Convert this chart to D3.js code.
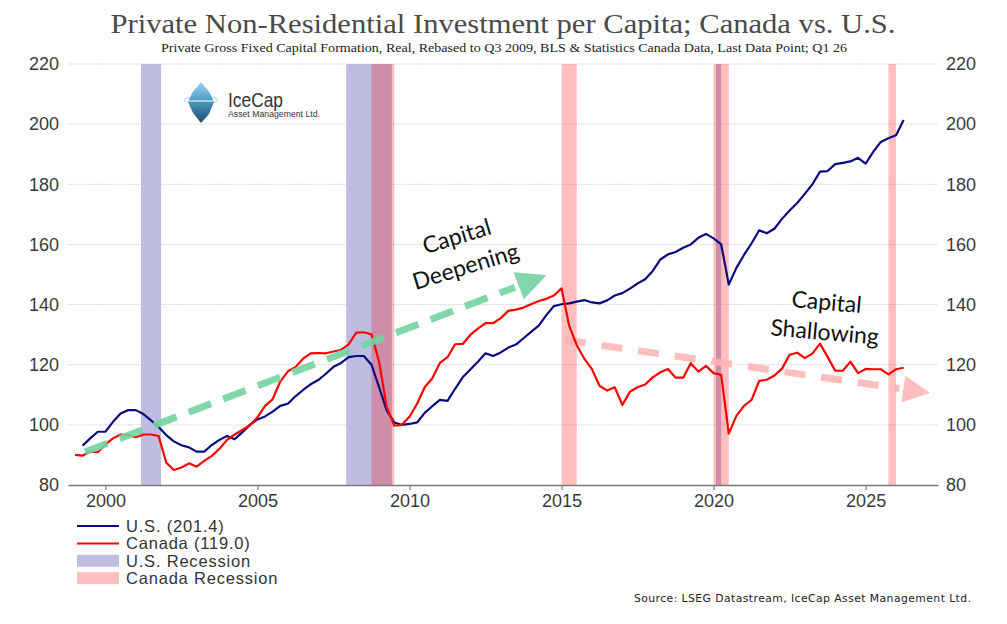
<!DOCTYPE html>
<html>
<head>
<meta charset="utf-8">
<script src="https://cdn.jsdelivr.net/npm/d3@7"></script>
<style>
  html, body { margin: 0; padding: 0; background: #ffffff; }
  svg { display: block; }
</style>
</head>
<body>
<svg id="chart" width="1007" height="624"></svg>
<script>
// ---------------- DATA ----------------
// Quarterly values; each point is plotted at its quarter-end date.
const caStartQuarter = "1998Q4";
const usStartQuarter = "1999Q1";

const usValues = [
  93.1, 95.5, 97.7, 97.7, 101.0, 103.8, 104.9, 104.9, 103.6, 101.5, 99.3, 96.6,
  94.5, 93.2, 92.5, 91.1, 91.1, 93.3, 95.0, 96.3, 95.2, 97.5, 100.0, 101.8,
  102.8, 104.4, 106.3, 107.0, 109.5, 111.6, 113.5, 114.9, 117.0, 119.3, 120.6, 122.5,
  122.9, 122.9, 120.0, 112.5, 104.8, 100.8, 100.0, 100.3, 100.8, 104.0, 106.2, 108.3,
  108.0, 112.0, 115.8, 118.4, 121.0, 123.8, 122.9, 124.1, 125.7, 126.7, 128.8, 130.9,
  133.0, 136.5, 139.5, 140.1, 140.4, 141.0, 141.5, 140.7, 140.4, 141.4, 143.0, 143.8,
  145.3, 147.0, 148.4, 151.2, 155.0, 156.7, 157.5, 158.9, 160.0, 162.2, 163.5, 162.0,
  160.0, 146.7, 152.2, 156.5, 160.4, 164.7, 163.7, 165.2, 168.5, 171.3, 173.8, 176.8,
  180.0, 184.2, 184.4, 186.7, 187.1, 187.6, 188.8, 186.9, 190.8, 194.1, 195.3, 196.3,
  201.4
];

const caValues = [
  90.0, 89.8, 91.1, 90.9, 93.5, 95.5, 96.8, 96.6, 95.9, 96.8, 96.8, 96.3,
  87.5, 85.0, 85.8, 87.2, 86.1, 88.0, 89.7, 92.0, 95.0, 96.8, 98.3, 99.8,
  102.5, 106.3, 108.5, 114.4, 117.8, 119.2, 122.0, 123.8, 123.9, 123.8, 124.4, 124.9,
  126.8, 130.7, 130.8, 130.1, 121.0, 106.0, 99.7, 100.0, 102.7, 107.0, 112.5, 115.5,
  120.6, 122.5, 126.8, 126.9, 129.9, 132.0, 133.8, 133.8, 135.5, 137.9, 138.3, 139.0,
  140.1, 141.2, 141.9, 143.0, 145.4, 133.0, 126.5, 122.0, 118.5, 113.0, 111.4, 112.5,
  106.6, 111.0, 112.5, 113.4, 115.8, 117.5, 118.6, 115.7, 115.7, 120.5, 117.7, 119.6,
  117.2, 116.6, 97.1, 103.0, 106.3, 108.3, 114.6, 115.0, 116.4, 118.7, 123.3, 124.0,
  122.2, 123.7, 127.0, 122.6, 118.0, 118.0, 121.0, 117.2, 118.6, 118.5, 118.5, 116.8,
  118.5, 119.0
];

// Recession periods (decimal years)
const usRecessions = [[2001.17, 2001.83], [2007.92, 2009.42], [2020.08, 2020.25]];
const caRecessions = [[2008.75, 2009.5], [2015.0, 2015.5], [2020.0, 2020.5], [2025.75, 2026.0]];

const xTicks = [2000, 2005, 2010, 2015, 2020, 2025];
const yTicks = [80, 100, 120, 140, 160, 180, 200, 220];
const yGrid = [100, 120, 140, 160, 180, 200, 220];

const legendItems = ["U.S. (201.4)", "Canada (119.0)", "U.S. Recession", "Canada Recession"];

// Annotation arrows in data units: [year, value]
const deepeningArrow = [[1999.33, 91.0], [2014.51, 149.8]];
const shallowingArrow = [[2015.11, 128.2], [2027.12, 110.6]];

const titleText = "Private Non-Residential Investment per Capita; Canada vs. U.S.";
const subtitleText = "Private Gross Fixed Capital Formation, Real, Rebased to Q3 2009, BLS & Statistics Canada Data, Last Data Point; Q1 26";
const sourceText = "Source: LSEG Datastream, IceCap Asset Management Ltd.";

// ---------------- HELPERS ----------------
function quarterEnd(q) {
  const yr = +q.slice(0, 4), qq = +q.slice(5);
  return yr + qq / 4;
}
function series(startQ, values) {
  const t0 = quarterEnd(startQ);
  return values.map((v, i) => ({ t: t0 + i / 4, v }));
}
const usData = series(usStartQuarter, usValues);
const caData = series(caStartQuarter, caValues);

// ---------------- CHART ----------------
const svg = d3.select("#chart");
const W = 1007, H = 624;
svg.append("rect").attr("width", W).attr("height", H).attr("fill", "#fff");

const plotLeft = 68, plotRight = 938, plotTop = 64, plotBottom = 485;
const x = d3.scaleLinear().domain([1998.77, 2027.38]).range([plotLeft, plotRight]);
const y = d3.scaleLinear().domain([80, 220]).range([plotBottom, plotTop]);

// Title & subtitle
svg.append("text")
  .attr("x", 503).attr("y", 33)
  .attr("text-anchor", "middle")
  .attr("font-family", "'Liberation Serif', 'DejaVu Serif', serif")
  .attr("font-size", 28)
  .attr("fill", "#4a4a4a")
  .attr("textLength", 785).attr("lengthAdjust", "spacingAndGlyphs")
  .text(titleText);

svg.append("text")
  .attr("x", 504).attr("y", 52)
  .attr("text-anchor", "middle")
  .attr("font-family", "'Liberation Serif', serif")
  .attr("font-size", 11.5)
  .attr("fill", "#222")
  .attr("textLength", 686).attr("lengthAdjust", "spacingAndGlyphs")
  .text(subtitleText);

// Grid lines
svg.append("g").selectAll("line").data(yGrid).join("line")
  .attr("x1", plotLeft).attr("x2", plotRight)
  .attr("y1", d => y(d)).attr("y2", d => y(d))
  .attr("stroke", "#d4d4d4").attr("stroke-width", 1)
  .attr("stroke-dasharray", "1.5,1");

// Recession bands
svg.append("g").selectAll("rect").data(usRecessions).join("rect")
  .attr("x", d => x(d[0])).attr("width", d => x(d[1]) - x(d[0]))
  .attr("y", y(220)).attr("height", y(80) - y(220))
  .attr("fill", "#bcbde0");
svg.append("g").selectAll("rect").data(caRecessions).join("rect")
  .attr("x", d => x(d[0])).attr("width", d => x(d[1]) - x(d[0]))
  .attr("y", y(220)).attr("height", y(80) - y(220))
  .attr("fill", "#ff0000").attr("fill-opacity", 0.25);

// Logo
const logo = svg.append("g");
const defs = svg.append("defs");
const grad = defs.append("linearGradient").attr("id", "ice").attr("x1", 0).attr("y1", 0).attr("x2", 0).attr("y2", 1);
grad.append("stop").attr("offset", "0%").attr("stop-color", "#9ad6ee");
grad.append("stop").attr("offset", "45%").attr("stop-color", "#4f9cc4");
grad.append("stop").attr("offset", "100%").attr("stop-color", "#1d4a70");
logo.append("ellipse").attr("cx", 201).attr("cy", 100).attr("rx", 17).attr("ry", 3.5)
  .attr("fill", "none").attr("stroke", "#a9d6ea").attr("stroke-width", 1);
logo.append("path")
  .attr("d", "M201,82 L210,93 L214,102 L209,114 L201,123 L193,113 L188,102 L192,93 Z")
  .attr("fill", "url(#ice)");
logo.append("path")
  .attr("d", "M188,100 L214,100 L214,102 L188,102 Z").attr("fill", "#ffffff").attr("fill-opacity", 0.5);
logo.append("text").attr("x", 228).attr("y", 107)
  .attr("font-family", "'Liberation Sans', Arial, sans-serif").attr("font-size", 21)
  .attr("fill", "#333").attr("textLength", 55).attr("lengthAdjust", "spacingAndGlyphs")
  .text("IceCap");
logo.append("text").attr("x", 228).attr("y", 117)
  .attr("font-family", "'Liberation Sans', Arial, sans-serif").attr("font-size", 8.5)
  .attr("fill", "#333").attr("textLength", 92).attr("lengthAdjust", "spacingAndGlyphs")
  .text("Asset Management Ltd.");

// Arrows
function drawArrow(pts, color, opacity, dash, width, headLen, headW) {
  const x0 = x(pts[0][0]), y0 = y(pts[0][1]);
  const x1 = x(pts[1][0]), y1 = y(pts[1][1]);
  const dx = x1 - x0, dy = y1 - y0, L = Math.hypot(dx, dy);
  const ux = dx / L, uy = dy / L;
  const bx = x1 - ux * headLen, by = y1 - uy * headLen;
  const g = svg.append("g").attr("opacity", opacity);
  g.append("line").attr("x1", x0).attr("y1", y0).attr("x2", bx - ux * 4).attr("y2", by - uy * 4)
    .attr("stroke", color).attr("stroke-width", width).attr("stroke-dasharray", dash);
  g.append("path")
    .attr("d", `M${x1},${y1} L${bx - uy * headW / 2},${by + ux * headW / 2} L${bx + uy * headW / 2},${by - ux * headW / 2} Z`)
    .attr("fill", color);
}
drawArrow(shallowingArrow, "#ffb3b3", 0.85, "21,16", 7, 27, 27);

// Lines
const line = d3.line().x(d => x(d.t)).y(d => y(d.v));
svg.append("path").datum(usData).attr("d", line)
  .attr("fill", "none").attr("stroke", "#0b0b80").attr("stroke-width", 2.2).attr("stroke-linejoin", "round");
svg.append("path").datum(caData).attr("d", line)
  .attr("fill", "none").attr("stroke", "#ff0000").attr("stroke-width", 2.2).attr("stroke-linejoin", "round");

drawArrow(deepeningArrow, "#74d3a1", 0.9, "24,13", 7, 30, 29);

// Annotation texts
const annFont = "Lato, 'Open Sans', sans-serif";
[
  { t: "Capital", tx: 459, ty: 244, r: -17 },
  { t: "Deepening", tx: 468, ty: 274, r: -17 },
  { t: "Capital", tx: 826, ty: 310, r: 5 },
  { t: "Shallowing", tx: 824, ty: 340, r: 5 }
].forEach(a => {
  svg.append("text")
    .attr("transform", `translate(${a.tx},${a.ty}) rotate(${a.r})`)
    .attr("text-anchor", "middle")
    .attr("font-family", annFont).attr("font-size", 23)
    .attr("fill", "#111").text(a.t);
});

// Axes
const axisFont = "'Liberation Sans', Arial, sans-serif";
const xAxis = svg.append("g").attr("transform", `translate(0,${plotBottom})`)
  .call(d3.axisBottom(x).tickValues(xTicks).tickFormat(d3.format("d")).tickSize(5).tickSizeOuter(0).tickPadding(4));
xAxis.select(".domain").attr("stroke", "#7a7a7a").attr("stroke-width", 1.3);
xAxis.selectAll(".tick line").attr("stroke", "#7a7a7a").attr("stroke-width", 1.2);
xAxis.selectAll(".tick text").attr("font-family", axisFont).attr("font-size", 18).attr("fill", "#3a3a3a");

const yLeft = svg.append("g").attr("transform", `translate(${plotLeft},0)`)
  .call(d3.axisLeft(y).tickValues(yTicks).tickSize(0).tickPadding(9));
yLeft.select(".domain").remove();
yLeft.selectAll(".tick text").attr("font-family", axisFont).attr("font-size", 18).attr("fill", "#3a3a3a");

const yRight = svg.append("g").attr("transform", `translate(${plotRight},0)`)
  .call(d3.axisRight(y).tickValues(yTicks).tickSize(0).tickPadding(8));
yRight.select(".domain").remove();
yRight.selectAll(".tick text").attr("font-family", axisFont).attr("font-size", 18).attr("fill", "#3a3a3a");

// Legend
const legend = svg.append("g").attr("transform", "translate(77,526)");
const rowH = 17.4;
const swatches = [
  { type: "line", color: "#0b0b80" },
  { type: "line", color: "#ff0000" },
  { type: "rect", color: "#bcbde0" },
  { type: "rect", color: "#ffbfbf" }
];
legendItems.forEach((label, i) => {
  const g = legend.append("g").attr("transform", `translate(0,${i * rowH})`);
  const s = swatches[i];
  if (s.type === "line") {
    g.append("line").attr("x1", 0).attr("x2", 42).attr("y1", 0).attr("y2", 0)
      .attr("stroke", s.color).attr("stroke-width", 2);
  } else {
    g.append("rect").attr("x", 0).attr("width", 42).attr("y", -6).attr("height", 12).attr("fill", s.color);
  }
  g.append("text").attr("x", 49).attr("y", 0).attr("dy", "0.36em")
    .attr("font-family", axisFont).attr("font-size", 16.5).attr("fill", "#333")
    .attr("letter-spacing", 0.8)
    .text(label);
});

// Source
svg.append("text")
  .attr("x", 971).attr("y", 602)
  .attr("text-anchor", "end")
  .attr("font-family", "'DejaVu Sans', Verdana, sans-serif").attr("font-size", 10.8)
  .attr("fill", "#222")
  .attr("textLength", 337).attr("lengthAdjust", "spacing")
  .text(sourceText);
</script>
</body>
</html>
